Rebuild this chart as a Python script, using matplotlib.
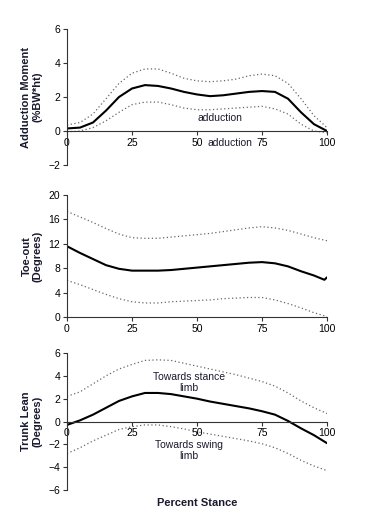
import matplotlib
matplotlib.use("Agg")
import matplotlib.pyplot as plt
import numpy as np

plt.rcParams['font.family'] = ['Liberation Sans', 'DejaVu Sans']

x = [0, 5, 10, 15, 20, 25, 30, 35, 40, 45, 50, 55, 60, 65, 70, 75, 80, 85, 90, 95, 100]

add_mean = [0.15, 0.2, 0.5, 1.2, 2.0, 2.5, 2.7, 2.65, 2.5, 2.3, 2.15, 2.05, 2.1, 2.2, 2.3, 2.35, 2.3, 1.9, 1.1, 0.4, 0.0]
add_up = [0.35, 0.5, 1.0, 1.9, 2.8, 3.4, 3.65, 3.65, 3.4, 3.1, 2.95, 2.9, 2.95, 3.05, 3.25, 3.35, 3.25, 2.8, 1.9, 0.9, 0.2]
add_lo = [-0.05, 0.0, 0.2, 0.6, 1.1, 1.55, 1.7, 1.7, 1.55, 1.35, 1.25, 1.25, 1.3, 1.35, 1.4, 1.45, 1.3, 1.0, 0.4, 0.0, -0.1]

toe_x = [0, 5, 10, 15, 20, 25, 30, 35, 40, 45, 50, 55, 60, 65, 70, 75, 80, 85, 90, 95, 99, 100]
toe_mean = [11.6, 10.5, 9.5, 8.5, 7.9, 7.6, 7.6, 7.6, 7.7, 7.9, 8.1, 8.3, 8.5, 8.7, 8.9, 9.0, 8.8, 8.3, 7.5, 6.8, 6.1, 6.5]
toe_up = [17.3, 16.4, 15.5, 14.5, 13.6, 13.0, 12.9, 12.9, 13.1, 13.3, 13.5, 13.7, 14.0, 14.3, 14.6, 14.8, 14.6, 14.2, 13.6, 13.0, 12.6, 12.5]
toe_lo = [6.0, 5.3, 4.5, 3.7, 3.0, 2.5, 2.3, 2.3, 2.5, 2.6, 2.7, 2.8, 3.0, 3.1, 3.2, 3.2, 2.8, 2.2, 1.5, 0.7, 0.2, 0.1]

trunk_mean = [-0.3, 0.1, 0.6, 1.2, 1.8, 2.2, 2.5, 2.5, 2.4, 2.2, 2.0, 1.75, 1.55, 1.35, 1.15, 0.9, 0.6, 0.05, -0.6, -1.2, -1.9]
trunk_up = [2.2, 2.6, 3.3, 4.0, 4.6, 5.0, 5.35, 5.4, 5.35, 5.1, 4.85, 4.6, 4.35, 4.1, 3.8, 3.5, 3.1, 2.5, 1.8, 1.2, 0.7]
trunk_lo = [-2.8, -2.3, -1.7, -1.2, -0.7, -0.45, -0.3, -0.3, -0.45, -0.65, -0.9, -1.1, -1.3, -1.5, -1.7, -1.95, -2.3, -2.8, -3.4, -3.9, -4.3]

xticks = [0, 25, 50, 75, 100]

W, H = 377, 522
fig = plt.figure(figsize=(W / 100, H / 100), dpi=100)

TXT = '#1a1a2e'
LABEL_X = -0.135

def make_ax(top, bottom, ylim, yticks):
    left, right = 67, 327
    ax = fig.add_axes([left / W, 1 - bottom / H, (right - left) / W, (bottom - top) / H])
    ax.set_xlim(0, 100)
    ax.set_ylim(*ylim)
    ax.spines['top'].set_visible(False)
    ax.spines['right'].set_visible(False)
    ax.spines['bottom'].set_position(('data', 0))
    for s in ['left', 'bottom']:
        ax.spines[s].set_linewidth(0.8)
        ax.spines[s].set_color('#333333')
    ax.set_xticks(xticks)
    ax.set_yticks(yticks)
    ax.tick_params(direction='out', length=3, width=0.8, labelsize=7.5, colors='#333333', labelcolor='black', pad=2)
    ax.patch.set_alpha(0)
    return ax

def plot_panel(ax, xs, m, u, l):
    ax.plot(xs, m, color='black', lw=1.5, solid_capstyle='round', solid_joinstyle='round')
    ax.plot(xs, u, color='#666666', lw=0.9, ls=(0, (1, 2)))
    ax.plot(xs, l, color='#666666', lw=0.9, ls=(0, (1, 2)))

ax1 = make_ax(29, 165, (-2, 6), [-2, 0, 2, 4, 6])
plot_panel(ax1, x, add_mean, add_up, add_lo)
ax1.text(59, 0.75, 'adduction', fontsize=7.5, ha='center', va='center', color=TXT)
ax1.text(62.7, -0.7, 'adduction', fontsize=7.5, ha='center', va='center', color=TXT)
ax1.text(LABEL_X, 0.5, 'Adduction Moment\n(%BW*ht)', transform=ax1.transAxes, rotation=90,
         fontsize=8, fontweight='bold', ha='center', va='center', color=TXT, linespacing=1.1)

ax2 = make_ax(195, 317, (0, 20), [0, 4, 8, 12, 16, 20])
plot_panel(ax2, toe_x, toe_mean, toe_up, toe_lo)
ax2.text(LABEL_X, 0.5, 'Toe-out\n(Degrees)', transform=ax2.transAxes, rotation=90,
         fontsize=8, fontweight='bold', ha='center', va='center', color=TXT, linespacing=1.1)

ax3 = make_ax(353, 490, (-6, 6), [-6, -4, -2, 0, 2, 4, 6])
plot_panel(ax3, x, trunk_mean, trunk_up, trunk_lo)
ax3.text(47, 3.45, 'Towards stance\nlimb', fontsize=7.5, ha='center', va='center', color=TXT, linespacing=1.1)
ax3.text(47, -2.56, 'Towards swing\nlimb', fontsize=7.5, ha='center', va='center', color=TXT, linespacing=1.1)
ax3.text(LABEL_X, 0.5, 'Trunk Lean\n(Degrees)', transform=ax3.transAxes, rotation=90,
         fontsize=8, fontweight='bold', ha='center', va='center', color=TXT, linespacing=1.1)

fig.text(197 / W, 1 - 503 / H, 'Percent Stance', fontsize=8, fontweight='bold', ha='center', va='center', color=TXT)

fig.savefig('out.png', dpi=100)
